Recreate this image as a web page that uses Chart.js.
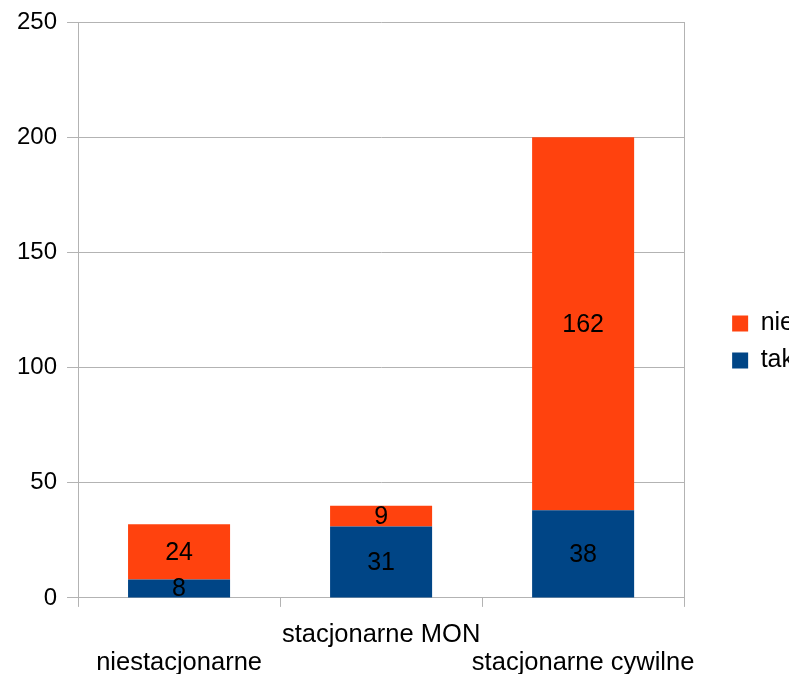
<!DOCTYPE html>
<html>
<head>
<meta charset="utf-8">
<script src="https://cdn.jsdelivr.net/npm/chart.js@4/dist/chart.umd.min.js"></script>
<style>
  body { margin: 0; overflow: hidden; background: #fff; }
</style>
</head>
<body>
<canvas id="chart" width="804" height="674"></canvas>
<script>
const categories = ['niestacjonarne', 'stacjonarne MON', 'stacjonarne cywilne'];
const takValues = [8, 31, 38];
const nieValues = [24, 9, 162];

const gridColor = '#b3b3b3';
const fontFamily = "'Liberation Sans', Arial, sans-serif";

// values written in the middle of each bar segment
const segmentLabels = {
    id: 'segmentLabels',
    afterDatasetsDraw(chart) {
        const ctx = chart.ctx;
        ctx.save();
        ctx.font = '25px ' + fontFamily;
        ctx.fillStyle = '#000';
        ctx.textAlign = 'center';
        ctx.textBaseline = 'middle';
        chart.data.datasets.forEach(function (ds, i) {
            chart.getDatasetMeta(i).data.forEach(function (bar, j) {
                ctx.fillText(String(ds.data[j]), bar.x, (bar.y + bar.base) / 2 + 1);
            });
        });
        ctx.restore();
    }
};

new Chart(document.getElementById('chart'), {
    type: 'bar',
    data: {
        labels: categories,
        datasets: [{
            label: 'tak',
            data: takValues,
            backgroundColor: '#004586'
        }, {
            label: 'nie',
            data: nieValues,
            backgroundColor: '#ff420e'
        }]
    },
    options: {
        responsive: false,
        animation: false,
        layout: { padding: { top: 14, left: 7, bottom: -17, right: 0 } },
        datasets: { bar: { categoryPercentage: 1, barPercentage: 0.505 } },
        plugins: {
            tooltip: { enabled: false },
            legend: {
                position: 'right',
                reverse: true,
                align: 'start',
                // empty title only used to push the items down
                title: {
                    display: true,
                    text: ' ',
                    font: { size: 10, lineHeight: 1 },
                    padding: { top: 275, bottom: 0 }
                },
                labels: {
                    boxWidth: 16,
                    boxHeight: 16,
                    padding: 12,
                    color: '#000',
                    font: { size: 25, family: fontFamily }
                }
            }
        },
        scales: {
            x: {
                stacked: true,
                grid: {
                    offset: true,
                    drawOnChartArea: false,
                    color: gridColor,
                    tickLength: 9
                },
                border: { color: gridColor },
                ticks: {
                    color: '#000',
                    padding: 14,
                    maxRotation: 0,
                    autoSkip: false,
                    font: { size: 25.5, family: fontFamily, lineHeight: 1.1 },
                    callback: function (value, index) {
                        const name = categories[index];
                        return index % 2 === 0 ? ['', name] : [name];
                    }
                }
            },
            y: {
                stacked: true,
                min: 0,
                max: 250,
                grid: { color: gridColor, tickLength: 11 },
                border: { color: gridColor },
                ticks: {
                    stepSize: 50,
                    color: '#000',
                    padding: 10,
                    font: { size: 24, family: fontFamily, lineHeight: 1 }
                }
            },
            y2: {
                position: 'right',
                grid: { display: false },
                border: { color: gridColor },
                ticks: { display: false },
                afterFit: function (scale) { scale.width = 36; }
            }
        }
    },
    plugins: [segmentLabels]
});
</script>
</body>
</html>
